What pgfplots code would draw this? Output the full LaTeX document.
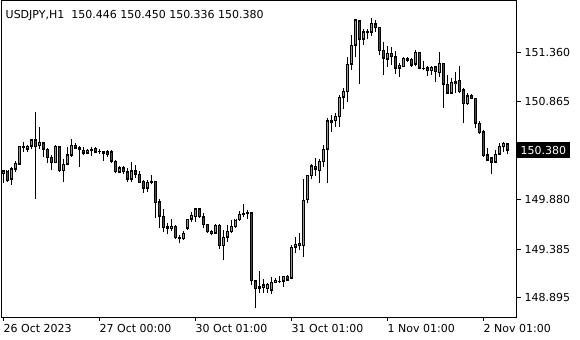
\documentclass[border=0pt]{standalone}
\usepackage{pgfplots}
\usepackage{pgfplotstable}
\pgfplotsset{compat=1.18}
\usetikzlibrary{plotmarks}
\usepackage{fontspec}
\setmainfont{DejaVu Sans}
\definecolor{candlegreen}{RGB}{0,255,0}
\definecolor{candlered}{RGB}{255,0,0}
\pgfplotstableread{
i o h l c
0 150.146 150.180 150.046 150.173
1 150.170 150.173 150.062 150.072
2 150.086 150.213 150.029 150.190
3 150.187 150.270 150.163 150.247
4 150.240 150.421 150.230 150.421
5 150.404 150.461 150.364 150.418
6 150.391 150.431 150.364 150.421
7 150.421 150.489 150.388 150.482
8 150.482 150.763 149.891 150.414
9 150.424 150.615 150.388 150.458
10 150.454 150.464 150.307 150.388
11 150.388 150.398 150.247 150.307
12 150.307 150.331 150.180 150.253
13 150.253 150.428 150.247 150.421
14 150.414 150.421 150.163 150.170
15 150.173 150.287 150.062 150.240
16 150.237 150.414 150.227 150.331
17 150.328 150.489 150.313 150.431
18 150.431 150.448 150.388 150.398
19 150.404 150.421 150.213 150.388
20 150.381 150.414 150.331 150.348
21 150.348 150.391 150.338 150.381
22 150.388 150.407 150.324 150.374
23 150.398 150.414 150.348 150.358
24 150.364 150.391 150.341 150.362
25 150.364 150.374 150.270 150.348
26 150.364 150.381 150.313 150.338
27 150.364 150.381 150.247 150.270
28 150.270 150.280 150.146 150.163
29 150.157 150.220 150.146 150.203
30 150.203 150.220 150.139 150.160
31 150.163 150.200 150.062 150.086
32 150.086 150.260 150.062 150.170
33 150.170 150.230 150.099 150.136
34 150.139 150.170 150.046 150.052
35 150.069 150.079 149.951 149.996
36 149.996 150.079 149.961 150.059
37 150.056 150.129 150.036 150.069
38 150.069 150.072 149.700 149.851
39 149.858 149.888 149.593 149.717
40 149.717 149.784 149.559 149.599
41 149.609 149.643 149.533 149.589
42 149.593 149.687 149.566 149.616
43 149.616 149.626 149.488 149.498
44 149.498 149.526 149.442 149.495
45 149.488 149.566 149.475 149.543
46 149.596 149.690 149.576 149.684
47 149.684 149.760 149.660 149.727
48 149.710 149.800 149.660 149.790
49 149.790 149.800 149.697 149.710
50 149.710 149.747 149.593 149.633
51 149.633 149.636 149.549 149.559
52 149.566 149.576 149.526 149.543
53 149.543 149.636 149.536 149.626
54 149.626 149.636 149.388 149.418
55 149.418 149.576 149.274 149.502
56 149.502 149.626 149.458 149.566
57 149.559 149.677 149.543 149.616
58 149.609 149.677 149.593 149.677
59 149.677 149.770 149.667 149.734
60 149.734 149.838 149.710 149.744
61 149.744 149.777 149.684 149.750
62 149.750 149.760 149.023 149.066
63 149.066 149.073 148.788 148.989
64 148.989 149.167 148.945 149.006
65 148.999 149.080 148.945 149.023
66 148.989 149.046 148.945 149.030
67 148.972 149.100 148.932 149.050
68 149.050 149.096 149.040 149.073
69 149.063 149.113 149.040 149.060
70 149.063 149.113 149.006 149.113
71 149.113 149.123 149.066 149.073
72 149.090 149.428 149.080 149.405
73 149.402 149.509 149.348 149.435
74 149.442 149.543 149.375 149.418
75 149.418 150.089 149.307 149.878
76 149.878 150.129 149.845 150.129
77 150.122 150.240 150.086 150.223
78 150.220 150.297 150.122 150.187
79 150.173 150.287 150.052 150.270
80 150.263 150.431 150.213 150.388
81 150.388 150.706 150.046 150.673
82 150.660 150.733 150.565 150.676
83 150.673 150.750 150.615 150.723
84 150.716 150.934 150.615 150.911
85 150.911 151.002 150.793 150.974
86 150.967 151.320 150.867 151.246
87 151.246 151.538 151.186 151.437
88 151.437 151.694 151.314 151.689
89 151.679 151.689 151.045 151.495
90 151.495 151.598 151.437 151.571
91 151.561 151.595 151.495 151.578
92 151.565 151.712 151.531 151.656
93 151.649 151.689 151.571 151.611
94 151.615 151.621 151.337 151.380
95 151.387 151.464 151.135 151.303
96 151.293 151.427 151.219 151.354
97 151.354 151.414 151.236 151.320
98 151.320 151.380 151.146 151.203
99 151.203 151.253 151.118 151.236
100 151.219 151.320 151.213 151.303
101 151.286 151.320 151.269 151.303
102 151.293 151.303 151.219 151.236
103 151.243 151.387 151.226 151.364
104 151.364 151.370 151.193 151.203
105 151.203 151.276 151.186 151.201
106 151.209 151.229 151.125 151.179
107 151.179 151.226 151.135 151.213
108 151.219 151.226 151.068 151.169
109 151.159 151.364 151.118 151.253
110 151.253 151.259 150.800 151.042
111 151.042 151.135 150.941 150.951
112 150.951 151.108 150.944 151.062
113 151.068 151.169 150.951 151.045
114 151.085 151.226 150.951 150.967
115 150.985 151.002 150.650 150.844
116 150.844 150.951 150.834 150.927
117 150.927 150.941 150.894 150.901
118 150.901 150.907 150.599 150.650
119 150.650 150.676 150.542 150.555
120 150.565 150.582 150.313 150.321
121 150.331 150.398 150.273 150.280
122 150.303 150.313 150.136 150.257
123 150.257 150.381 150.247 150.338
124 150.338 150.448 150.331 150.421
125 150.414 150.464 150.364 150.448
126 150.446 150.450 150.336 150.380
}\ohlc
\pgfplotsset{
  candle/.style n args={2}{color=#1, draw opacity=0, mark=none, forget plot,
    error bars/.cd, y dir=plus, y explicit, error mark=none,
    error bar style={solid, line cap=butt, draw=#1, draw opacity=1, line width=#2}},
}
\begin{document}
\begin{tikzpicture}[font=\fontsize{11bp}{13bp}\selectfont]
\path[use as bounding box] (-1.5bp,-23bp) rectangle (578.5bp,317bp);
\begin{axis}[
  scale only axis, width=515bp, height=316bp,
  xmin=-0.5, xmax=128.25, ymin=148.701, ymax=151.880,
  axis line style={line width=1bp, black},
  tick style={black, line width=1bp},
  tick align=outside, major tick length=4bp,
  xtick pos=left, ytick pos=right,
  xticklabel pos=left, yticklabel pos=right,
  xtick={0,24,48,72,96,120},
  xticklabels={26 Oct 2023, 27 Oct 00:00, 30 Oct 01:00, 31 Oct 01:00, 1 Nov 01:00, 2 Nov 01:00},
  xticklabel style={anchor=north west, inner sep=0pt, yshift=-3bp},
  ytick={148.895,149.385,149.880,150.865,151.360},
  yticklabels={148.895,149.385,149.880,150.865,151.360},
  yticklabel style={anchor=west, inner xsep=4bp, inner ysep=3.5bp},
  extra y ticks={150.380},
  extra y tick labels={150.380},
  extra y tick style={yticklabel style={fill=black, text=white}, major tick length=0pt},
  clip=true,
]
% lower wick + bottom edge of body
\addplot[candle={black}{1bp}]
  table[x=i, y=l, y error plus expr={min(\thisrow{o},\thisrow{c})+0.01-\thisrow{l}}] {\ohlc};
% upper wick + top edge of body
\addplot[candle={black}{1bp}]
  table[x=i, y expr={max(\thisrow{o},\thisrow{c})-0.01}, y error plus expr={\thisrow{h}-max(\thisrow{o},\thisrow{c})+0.01}] {\ohlc};
% left edge of body
\addplot[candle={black}{1bp}]
  table[x expr={\thisrow{i}-0.25}, y expr={min(\thisrow{o},\thisrow{c})-0.005}, y error plus expr={abs(\thisrow{c}-\thisrow{o})+0.01}] {\ohlc};
% right edge of body
\addplot[candle={black}{1bp}]
  table[x expr={\thisrow{i}+0.25}, y expr={min(\thisrow{o},\thisrow{c})-0.005}, y error plus expr={abs(\thisrow{c}-\thisrow{o})+0.01}] {\ohlc};
% bullish body fill (centre column)
\addplot[scatter, only marks, mark=|, forget plot, line width=1bp,
  restrict expr to domain={\thisrow{c}-\thisrow{o}}{0.021:10},
  visualization depends on={(\thisrow{c}-\thisrow{o}-0.02)*49.7 \as \hb},
  scatter/use mapped color={draw=candlegreen, fill=candlegreen, line width=1bp},
  scatter/@pre marker code/.append style={/tikz/mark size=\hb bp}]
  table[x=i, y expr={(\thisrow{o}+\thisrow{c})/2}] {\ohlc};
% bearish body fill (centre column)
\addplot[scatter, only marks, mark=|, forget plot, line width=1bp,
  restrict expr to domain={\thisrow{o}-\thisrow{c}}{0.021:10},
  visualization depends on={(\thisrow{o}-\thisrow{c}-0.02)*49.7 \as \hb},
  scatter/use mapped color={draw=candlered, fill=candlered, line width=1bp},
  scatter/@pre marker code/.append style={/tikz/mark size=\hb bp}]
  table[x=i, y expr={(\thisrow{o}+\thisrow{c})/2}] {\ohlc};
\node[anchor=north west, inner sep=0pt] at (rel axis cs:0,1) [xshift=4bp, yshift=-9bp] {USDJPY,H1\ \ 150.446 150.450 150.336 150.380};
\end{axis}
\end{tikzpicture}
\end{document}
